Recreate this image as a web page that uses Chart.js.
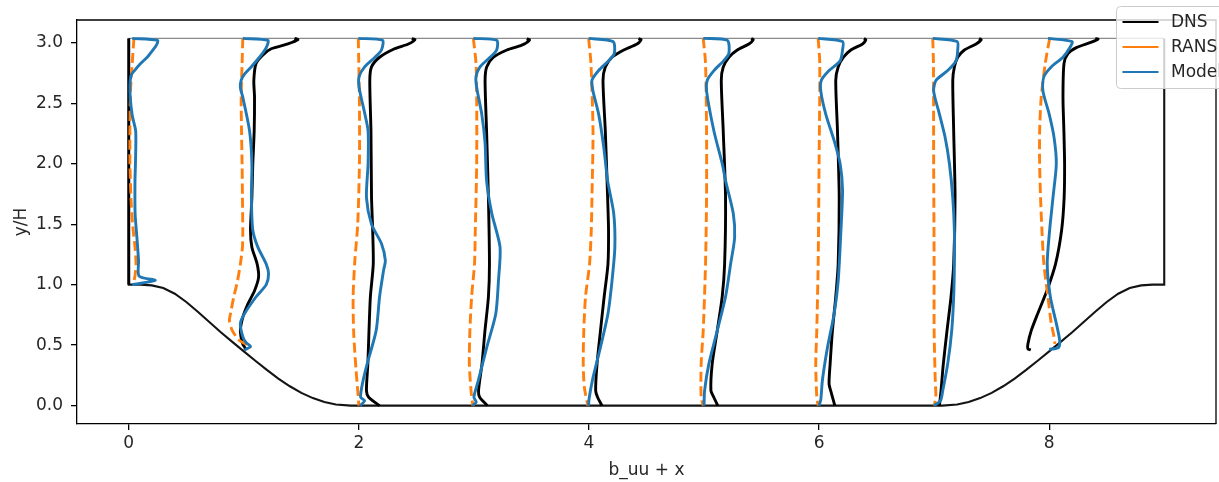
<!DOCTYPE html>
<html>
<head>
<meta charset="utf-8">
<script src="https://cdn.jsdelivr.net/npm/chart.js@4.4.1/dist/chart.umd.min.js"></script>
<style>
  body { margin: 0; background: #fff; }
</style>
</head>
<body>
<canvas id="myChart" width="1219" height="482"></canvas>
<script>
// stations along the channel (profile i is drawn at x = station + b_uu)
var stations = [0, 1, 2, 3, 4, 5, 6, 7, 8];

// each profile: [y/H, b_uu] pairs, top wall first
var dnsProfiles = [
  [[3.036,0],[1.0,0]],
  [[3.036,0.44],[3.025,0.47],[2.99,0.383],[2.95,0.238],[2.9,0.166],[2.83,0.107],[2.69,0.087],[2.55,0.093],[2.27,0.09],[2.0,0.078],[1.72,0.07],[1.45,0.058],[1.31,0.07],[1.17,0.116],[1.06,0.128],[0.95,0.093],[0.84,0.035],[0.73,-0.009],[0.62,-0.03],[0.51,-0.01],[0.47,0.015],[0.46,0.005]],
  [[3.034,0.46],[3.025,0.487],[2.99,0.43],[2.95,0.31],[2.88,0.18],[2.8,0.11],[2.69,0.095],[2.27,0.105],[1.72,0.11],[1.45,0.12],[1.17,0.125],[0.9,0.1],[0.62,0.088],[0.345,0.078],[0.124,0.066],[0.069,0.085],[0.0,0.18]],
  [[3.034,0.46],[3.022,0.483],[2.98,0.416],[2.94,0.286],[2.88,0.17],[2.8,0.111],[2.69,0.097],[2.27,0.11],[1.72,0.126],[1.17,0.135],[0.9,0.126],[0.62,0.096],[0.345,0.07],[0.124,0.04],[0.069,0.05],[0.0,0.117]],
  [[3.034,0.43],[3.025,0.453],[2.99,0.418],[2.94,0.302],[2.88,0.2],[2.8,0.142],[2.69,0.122],[2.27,0.142],[1.72,0.162],[1.45,0.17],[1.17,0.165],[0.9,0.132],[0.62,0.1],[0.345,0.07],[0.124,0.058],[0.069,0.075],[0.0,0.113]],
  [[3.034,0.41],[3.025,0.428],[2.99,0.39],[2.94,0.289],[2.88,0.216],[2.8,0.167],[2.69,0.15],[2.27,0.167],[1.72,0.187],[1.17,0.179],[0.9,0.158],[0.62,0.115],[0.345,0.071],[0.124,0.06],[0.069,0.085],[0.0,0.12]],
  [[3.034,0.39],[3.025,0.407],[2.99,0.378],[2.94,0.276],[2.88,0.212],[2.8,0.166],[2.69,0.145],[2.27,0.16],[1.72,0.175],[1.17,0.166],[0.9,0.145],[0.62,0.116],[0.345,0.096],[0.18,0.087],[0.1,0.108],[0.0,0.137]],
  [[3.034,0.39],[3.025,0.409],[2.99,0.365],[2.94,0.263],[2.88,0.205],[2.8,0.176],[2.69,0.162],[2.27,0.17],[1.72,0.182],[1.17,0.17],[0.9,0.147],[0.62,0.112],[0.345,0.08],[0.124,0.06],[0.0,0.046]],
  [[3.034,0.4],[3.03,0.425],[3.005,0.367],[2.96,0.236],[2.91,0.163],[2.83,0.129],[2.55,0.12],[2.27,0.128],[2.0,0.134],[1.72,0.13],[1.45,0.108],[1.17,0.055],[0.95,-0.02],[0.76,-0.1],[0.62,-0.156],[0.51,-0.185],[0.47,-0.185],[0.46,-0.16]]
];

var ransProfiles = [
  [[3.036,0.045],[2.9,0.035],[2.6,0.015],[2.3,0.01],[2.0,0.01],[1.7,0.02],[1.5,0.033],[1.3,0.055],[1.17,0.063],[1.08,0.055],[1.0,0.04]],
  [[3.036,-0.009],[2.83,-0.015],[2.55,-0.023],[2.27,-0.02],[2.0,-0.015],[1.72,-0.012],[1.45,-0.009],[1.31,-0.012],[1.17,-0.03],[1.03,-0.055],[0.9,-0.087],[0.76,-0.116],[0.7,-0.125],[0.62,-0.1],[0.54,-0.04],[0.5,0.035],[0.48,0.064]],
  [[3.036,-0.005],[2.5,0.005],[2.0,0.005],[1.5,-0.01],[1.2,-0.035],[0.9,-0.05],[0.6,-0.045],[0.3,-0.025],[0.1,-0.008],[0.0,0.0]],
  [[3.036,-0.005],[2.83,0.018],[2.55,0.024],[2.0,0.024],[1.45,0.012],[1.17,0.005],[0.9,-0.02],[0.62,-0.035],[0.345,-0.04],[0.124,-0.025],[0.0,-0.01]],
  [[3.036,-0.003],[2.83,0.017],[2.27,0.035],[1.72,0.026],[1.45,0.02],[1.17,0.005],[0.9,-0.03],[0.62,-0.045],[0.35,-0.05],[0.15,-0.04],[0.0,-0.01]],
  [[3.036,-0.007],[2.83,0.013],[2.27,0.022],[1.72,0.022],[1.17,0.013],[0.62,-0.007],[0.345,-0.025],[0.07,-0.025],[0.0,-0.007]],
  [[3.036,-0.008],[2.83,0.006],[2.0,0.0],[1.17,-0.008],[0.62,-0.02],[0.345,-0.029],[0.07,-0.02],[0.0,-0.008]],
  [[3.036,-0.012],[2.83,-0.006],[2.0,-0.004],[1.17,0.0],[0.62,0.0],[0.2,0.01],[0.07,0.015],[0.0,0.0]],
  [[3.036,0.004],[2.83,-0.034],[2.55,-0.069],[2.27,-0.083],[2.0,-0.083],[1.72,-0.075],[1.45,-0.063],[1.17,-0.046],[0.9,-0.011],[0.68,0.018],[0.57,0.042],[0.51,0.05]]
];

var modelProfiles = [
  [[3.036,0.03],[3.02,0.25],[2.98,0.24],[2.94,0.21],[2.88,0.16],[2.83,0.105],[2.77,0.05],[2.73,0.02],[2.6,0.01],[2.4,0.03],[2.27,0.06],[2.0,0.058],[1.86,0.054],[1.59,0.055],[1.4,0.07],[1.2,0.085],[1.07,0.09],[1.035,0.23],[1.0,0.03]],
  [[3.036,-0.009],[3.02,0.209],[2.96,0.195],[2.88,0.136],[2.8,0.064],[2.74,0.006],[2.69,-0.023],[2.63,-0.03],[2.55,-0.009],[2.27,0.05],[2.0,0.07],[1.72,0.066],[1.45,0.078],[1.31,0.122],[1.17,0.195],[1.09,0.215],[1.0,0.195],[0.9,0.107],[0.76,0.006],[0.68,-0.03],[0.57,-0.009],[0.52,0.02],[0.49,0.058],[0.46,0.006]],
  [[3.036,-0.005],[3.02,0.205],[2.94,0.196],[2.88,0.14],[2.8,0.05],[2.72,0.002],[2.63,0.002],[2.42,0.05],[2.27,0.08],[2.0,0.08],[1.72,0.066],[1.5,0.11],[1.34,0.196],[1.2,0.23],[1.12,0.215],[0.9,0.18],[0.62,0.15],[0.345,0.072],[0.2,0.035],[0.07,0.015],[0.04,0.05],[0.0,0.01]],
  [[3.036,-0.005],[3.02,0.198],[2.94,0.198],[2.88,0.14],[2.8,0.053],[2.72,0.018],[2.63,0.024],[2.41,0.068],[2.17,0.097],[1.86,0.11],[1.59,0.155],[1.31,0.227],[1.03,0.213],[0.76,0.19],[0.48,0.111],[0.21,0.039],[0.07,0.0],[0.03,0.02],[0.0,-0.01]],
  [[3.036,-0.003],[3.01,0.209],[2.91,0.22],[2.85,0.17],[2.77,0.084],[2.69,0.026],[2.6,0.035],[2.41,0.084],[2.14,0.128],[1.86,0.162],[1.59,0.215],[1.31,0.225],[1.03,0.2],[0.76,0.165],[0.48,0.099],[0.21,0.03],[0.05,0.0],[0.0,-0.003]],
  [[3.036,-0.007],[3.02,0.202],[2.91,0.216],[2.85,0.17],[2.77,0.086],[2.69,0.028],[2.6,0.022],[2.27,0.086],[2.0,0.158],[1.86,0.187],[1.59,0.254],[1.39,0.266],[1.17,0.231],[0.9,0.187],[0.62,0.115],[0.345,0.042],[0.124,0.005],[0.0,0.0]],
  [[3.036,-0.008],[3.01,0.204],[2.94,0.204],[2.85,0.183],[2.77,0.087],[2.69,0.02],[2.6,0.015],[2.41,0.058],[2.19,0.131],[2.0,0.183],[1.78,0.204],[1.45,0.19],[1.03,0.166],[0.76,0.131],[0.48,0.073],[0.21,0.029],[0.05,0.015],[0.0,0.0]],
  [[3.036,-0.012],[3.01,0.2],[2.94,0.205],[2.85,0.19],[2.77,0.118],[2.69,0.017],[2.6,-0.004],[2.41,0.046],[2.22,0.095],[2.0,0.133],[1.72,0.162],[1.45,0.176],[1.17,0.176],[0.9,0.17],[0.62,0.153],[0.345,0.118],[0.124,0.075],[0.04,0.055],[0.0,0.0]],
  [[3.036,-0.01],[3.01,0.199],[2.96,0.18],[2.88,0.12],[2.8,0.018],[2.72,-0.046],[2.6,-0.054],[2.41,0.0],[2.22,0.042],[2.0,0.062],[1.72,0.033],[1.45,0.004],[1.17,-0.017],[0.9,0.01],[0.68,0.062],[0.54,0.091],[0.48,0.08],[0.465,0.0]]
];

// hill shape (left hill, mirrored for the right one)
var hillX = [0, 0.1, 0.2, 0.3, 0.4, 0.5, 0.6, 0.7, 0.8, 0.9, 1.0, 1.1, 1.2, 1.3, 1.4, 1.5, 1.6, 1.7, 1.8, 1.929];
var hillY = [1.0, 1.0, 0.994, 0.972, 0.925, 0.857, 0.776, 0.691, 0.607, 0.527, 0.448, 0.371, 0.295, 0.224, 0.16, 0.105, 0.062, 0.03, 0.0095, 0];
var channelLength = 9;
var channelTop = 3.036;

var xTickValues = [0, 2, 4, 6, 8];
var yTickValues = [0, 0.5, 1, 1.5, 2, 2.5, 3];

var seriesNames = ['DNS', 'RANS', 'Model'];
var seriesColors = ['#000000', '#ff7f0e', '#1f77b4'];

Chart.defaults.font.family = 'DejaVu Sans';
Chart.defaults.font.size = 17;
Chart.defaults.color = '#262626';

// outline of the channel: left wall, hills, right wall
var outline = [{x: 0, y: channelTop}];
for (let i = 0; i < hillX.length; i++) outline.push({x: hillX[i], y: hillY[i]});
for (let i = hillX.length - 1; i >= 0; i--) outline.push({x: channelLength - hillX[i], y: hillY[i]});
outline.push({x: channelLength, y: channelTop});

var datasets = [
  {label: 'wall', data: outline, borderColor: '#141414', borderWidth: 2.1, tension: 0, order: 5},
  {label: 'top', data: [{x: 0, y: channelTop}, {x: channelLength, y: channelTop}], borderColor: '#8a8a8a', borderWidth: 1.3, order: 5}
];

var allProfiles = [dnsProfiles, ransProfiles, modelProfiles];
for (let s = 0; s < allProfiles.length; s++) {
  for (let i = 0; i < stations.length; i++) {
    datasets.push({
      label: seriesNames[s],
      data: allProfiles[s][i].map(p => ({x: stations[i] + p[1], y: p[0]})),
      borderColor: seriesColors[s],
      borderWidth: 2.9,
      borderDash: s === 1 ? [10, 4.5] : [],
      tension: 0.25,
      order: 3 - s
    });
  }
}

// top/right spines and a matplotlib style legend in the corner
var framePlugin = {
  id: 'framePlugin',
  afterDraw(chart) {
    var a = chart.chartArea, c = chart.ctx;
    c.save();
    c.strokeStyle = '#000';
    c.lineWidth = 1.3;
    c.beginPath();
    c.moveTo(a.left, a.top);
    c.lineTo(a.right, a.top);
    c.lineTo(a.right, a.bottom);
    c.stroke();

    c.beginPath();
    c.roundRect(1116.5, 6.5, 130, 82, 4);
    c.fillStyle = 'rgba(255,255,255,0.8)';
    c.fill();
    c.strokeStyle = '#cccccc';
    c.lineWidth = 1;
    c.stroke();
    var rows = [22, 47, 72];
    c.font = '17px "DejaVu Sans"';
    c.textBaseline = 'middle';
    for (let i = 0; i < seriesNames.length; i++) {
      c.beginPath();
      c.moveTo(1122.5, rows[i]);
      c.lineTo(1158.5, rows[i]);
      c.strokeStyle = seriesColors[i];
      c.lineWidth = 2;
      c.stroke();
      c.fillStyle = '#262626';
      c.fillText(seriesNames[i], 1171, rows[i] + 1);
    }
    c.restore();
  }
};

var ctx = document.getElementById('myChart').getContext('2d');
var myChart = new Chart(ctx, {
  type: 'scatter',
  data: {datasets: datasets},
  options: {
    responsive: false,
    devicePixelRatio: 1,
    animation: false,
    showLine: true,
    elements: {point: {radius: 0}},
    layout: {padding: {top: 20, right: 3, left: 0, bottom: 0}},
    plugins: {legend: {display: false}, tooltip: {enabled: false}},
    scales: {
      x: {
        type: 'linear',
        min: -0.45,
        max: 9.45,
        afterBuildTicks: function(scale) { scale.ticks = xTickValues.map(v => ({value: v})); },
        afterFit: function(scale) { scale.height = 58; },
        grid: {drawOnChartArea: false, drawTicks: true, tickLength: 6, color: '#000', lineWidth: 1.3},
        border: {color: '#000', width: 1.3},
        ticks: {padding: 3, callback: v => v.toString()},
        title: {display: true, text: 'b_uu + x', padding: {top: 1, bottom: 1}}
      },
      y: {
        type: 'linear',
        min: -0.152,
        max: 3.188,
        afterBuildTicks: function(scale) { scale.ticks = yTickValues.map(v => ({value: v})); },
        afterFit: function(scale) { scale.width = 77; },
        grid: {drawOnChartArea: false, drawTicks: true, tickLength: 6, color: '#000', lineWidth: 1.3},
        border: {color: '#000', width: 1.3},
        ticks: {padding: 8, callback: v => v.toFixed(1)},
        title: {display: true, text: 'y/H', padding: {top: 11, bottom: 11}}
      }
    }
  },
  plugins: [framePlugin]
});
</script>
</body>
</html>
